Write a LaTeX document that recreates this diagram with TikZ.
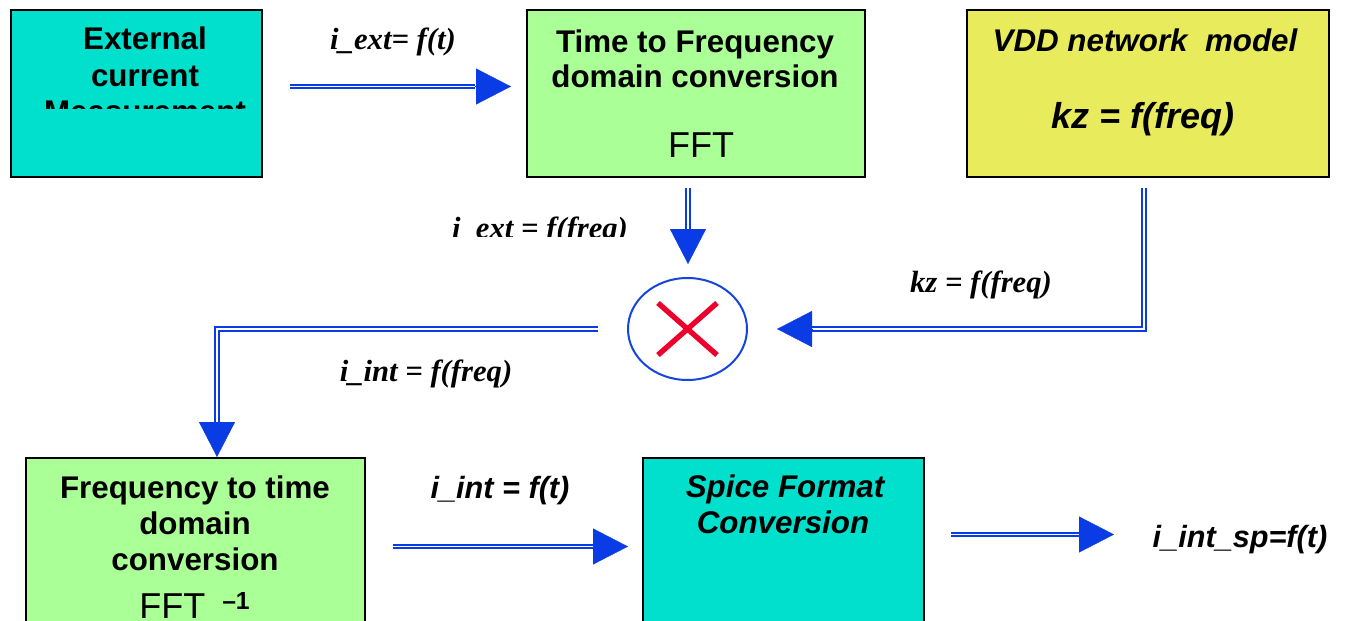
\documentclass[tikz,border=0pt]{standalone}
\usepackage{fontspec}
\setmainfont{Liberation Serif}
\setsansfont{Liberation Sans}
\usetikzlibrary{arrows.meta,shapes.geometric}

\definecolor{boxcyan}{RGB}{0,224,204}
\definecolor{boxgreen}{RGB}{170,255,150}
\definecolor{boxyellow}{RGB}{232,235,92}
\definecolor{flowblue}{RGB}{10,60,230}
\definecolor{ringblue}{RGB}{20,70,220}
\definecolor{crossred}{RGB}{238,0,44}

\begin{document}
\begin{tikzpicture}[x=0.75pt,y=-0.75pt,
  block/.style={draw=black,line width=1.5pt,anchor=north west,inner sep=0pt},
  boxtxt/.style={font=\sffamily\bfseries\fontsize{23.5}{27}\selectfont,anchor=base,inner sep=0pt},
  boxital/.style={font=\sffamily\bfseries\itshape\fontsize{23.5}{27}\selectfont,anchor=base,inner sep=0pt},
  romanlbl/.style={font=\rmfamily\bfseries\itshape\fontsize{23}{27}\selectfont,anchor=base,inner sep=0pt},
  sanslbl/.style={font=\sffamily\bfseries\itshape\fontsize{23}{27}\selectfont,anchor=base,inner sep=0pt},
  fftlbl/.style={font=\sffamily\fontsize{27}{31}\selectfont,inner sep=0pt},
  dbl/.style={draw=flowblue,line width=1.5pt,double=white,double distance=1.4pt},
  tiphead/.style={draw=flowblue,fill=flowblue,line width=0.3pt,-{Triangle[length=26.25pt,width=27pt]}}
]
\useasboundingbox (0,0) rectangle (1347,621);
\clip (0,0) rectangle (1347,621);

% ---- process blocks
\node[block,fill=boxcyan,minimum width=251*0.75pt,minimum height=167*0.75pt] (ext) at (10,9) {};
\node[block,fill=boxgreen,minimum width=338*0.75pt,minimum height=167*0.75pt] (tf) at (526,9) {};
\node[block,fill=boxyellow,minimum width=362*0.75pt,minimum height=167*0.75pt] (vdd) at (966,9) {};
\node[block,fill=boxgreen,minimum width=339*0.75pt,minimum height=190*0.75pt] (ft) at (25,457) {};
\node[block,fill=boxcyan,minimum width=281*0.75pt,minimum height=190*0.75pt] (spice) at (642,457) {};

% ---- multiplier
\node[ellipse,draw=ringblue,line width=1.5pt,minimum width=119*0.75pt,minimum height=102*0.75pt,inner sep=0pt] (mul) at (687.5,329) {};
\draw[crossred,line width=4pt] (658,303) -- (717,355);
\draw[crossred,line width=4pt] (717,303) -- (658,355);

% ---- block texts
\begin{scope}
  \clip (10,9) rectangle (262,108);
  \node[boxtxt] (ext1) at (145,50) {External};
  \node[boxtxt] (ext2) at (145,86) {current};
  \node[boxtxt] (ext3) at (145,122) {Measurement};
\end{scope}
\node[boxtxt] (tf1) at (695,52) {Time to Frequency};
\node[boxtxt] (tf2) at (695,87) {domain conversion};
\node[fftlbl,anchor=base] (tf3) at (701,157) {FFT};
\node[boxital] (vdd1) at (1145,51) {VDD network~~model};
\node[anchor=base,inner sep=0pt,font=\sffamily\bfseries\itshape\fontsize{27}{32}\selectfont] (vdd2) at (1143,128) {kz = f(freq)};
\node[boxtxt] (ft1) at (195,498) {Frequency to time};
\node[boxtxt] (ft2) at (195,534) {domain};
\node[boxtxt] (ft3) at (195,570) {conversion};
\node[fftlbl,anchor=base west] (ft4) at (139,618) {FFT};
\node[anchor=base west,inner sep=0pt,font=\sffamily\bfseries\fontsize{18.5}{20}\selectfont] (ft5) at (222,609) {–1};
\node[boxital] (sp1) at (785,497) {Spice Format};
\node[boxital] (sp2) at (783,533) {Conversion};

% ---- signal labels
\node[romanlbl] (l1) at (393,50) {i\_ext= f(t)};
\begin{scope}
  \clip (400,190) rectangle (660,236);
  \node[romanlbl] (l2) at (540,238) {i\_ext = f(freq)};
\end{scope}
\node[romanlbl] (l3) at (981,292) {kz = f(freq)};
\node[romanlbl] (l4) at (426,381) {i\_int = f(freq)};
\node[sanslbl] (l5) at (500,498) {i\_int = f(t)};
\node[sanslbl] (l6) at (1240,547) {i\_int\_sp=f(t)};

% ---- connector end points
\coordinate (a1s) at (290,86.5);  \coordinate (a1b) at (475,86.5);  \coordinate (a1e) at (511,86.5);
\coordinate (a2s) at (688,188);   \coordinate (a2b) at (688,230);   \coordinate (a2e) at (688,264);
\coordinate (a3s) at (1144,188);  \coordinate (a3b) at (812,329);   \coordinate (a3e) at (777,329);
\coordinate (a4s) at (598,329);   \coordinate (a4b) at (217,422);   \coordinate (a4e) at (217,457);
\coordinate (a5s) at (393,546.5); \coordinate (a5b) at (593,546.5); \coordinate (a5e) at (628,546.5);
\coordinate (a6s) at (951,534.5); \coordinate (a6b) at (1079,534.5);\coordinate (a6e) at (1114,534.5);

% ---- connectors
\draw[dbl] (a1s) -- (a1b);  \draw[tiphead] (a1b) -- (a1e);
\draw[dbl] (a2s) -- (a2b);  \draw[tiphead] (a2b) -- (a2e);
\draw[dbl] (a3s) |- (a3b);  \draw[tiphead] (a3b) -- (a3e);
\draw[dbl] (a4s) -| (a4b);  \draw[tiphead] (a4b) -- (a4e);
\draw[dbl] (a5s) -- (a5b);  \draw[tiphead] (a5b) -- (a5e);
\draw[dbl] (a6s) -- (a6b);  \draw[tiphead] (a6b) -- (a6e);
\end{tikzpicture}
\end{document}
